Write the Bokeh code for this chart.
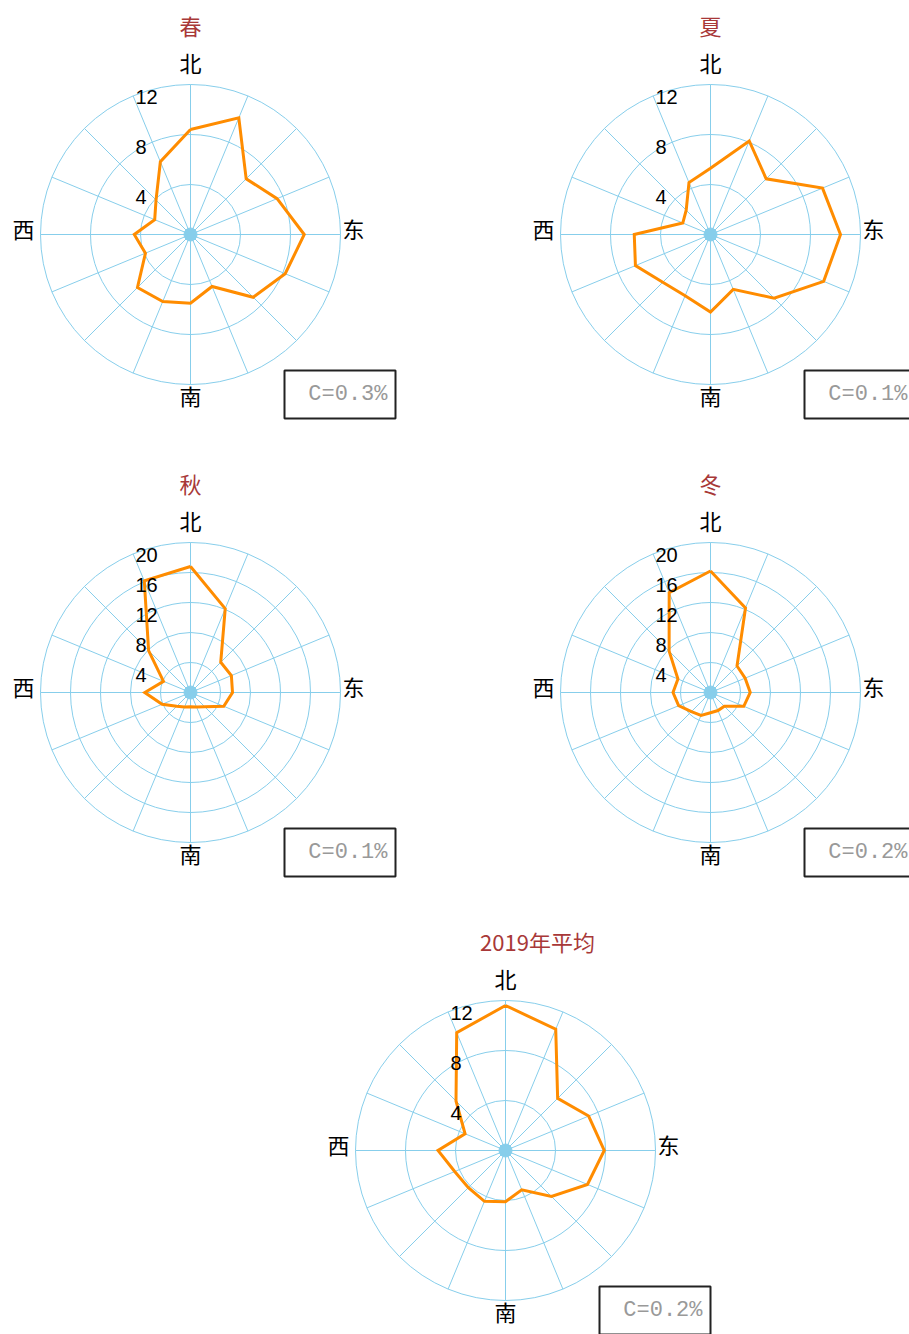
import numpy as np
from bokeh.plotting import figure
from bokeh.layouts import column, row
from bokeh.models import Range1d, Spacer
from bokeh.core.properties import value
from bokeh.embed import file_html
from bokeh.resources import INLINE

# 16 compass sectors, clockwise from north
sectors = ["N", "NNE", "NE", "ENE", "E", "ESE", "SE", "SSE",
           "S", "SSW", "SW", "WSW", "W", "WNW", "NW", "NNW"]

# wind direction frequency (%) per sector
spring = [8.4, 10.1, 6.3, 7.5, 9.1, 8.2, 7.1, 4.5, 5.5, 5.8, 6.0, 3.9, 4.5, 3.1, 3.9, 6.3]
summer = [5.3, 8.1, 6.3, 9.7, 10.4, 9.8, 7.2, 4.75, 6.2, 5.3, 5.4, 6.5, 6.1, 2.4, 2.75, 4.5]
autumn = [16.8, 12.1, 5.7, 5.9, 5.6, 4.8, 2.7, 2.1, 1.9, 2.1, 2.6, 4.1, 6.1, 3.9, 7.9, 16.1]
winter = [16.2, 12.2, 5.0, 5.0, 5.3, 4.8, 2.6, 2.6, 2.7, 3.3, 3.6, 4.6, 5.0, 4.7, 7.8, 14.4]
annual = [11.6, 10.5, 5.9, 7.2, 7.9, 7.1, 5.2, 3.4, 4.1, 4.4, 4.2, 4.4, 5.4, 3.5, 5.6, 10.2]

# ring ticks
ticks_small = [4, 8, 12]
ticks_large = [4, 8, 12, 16, 20]

# calm frequency
calm_spring = "C=0.3%"
calm_summer = "C=0.1%"
calm_autumn = "C=0.1%"
calm_winter = "C=0.2%"
calm_annual = "C=0.2%"

titles = ["春", "夏", "秋", "冬", "2019年平均"]
compass = ["北", "东", "南", "西"]

GRID = "#87CEEB"
ROSE = "#FF8C00"
TITLE_COLOR = "#A83838"
CJK = value("Noto Sans CJK SC")
NUM = value("Liberation Sans")
MONO = value("Liberation Mono")


def rose_panel(title, freq, ticks, calm, width, height, title_dx=0):
    rmax = ticks[-1]
    s = 150.0 / rmax          # pixels per percent
    cx, cy = 190, 234         # rose centre inside the panel
    p = figure(width=width, height=height,
               x_range=Range1d(-cx / s, (width - cx) / s),
               y_range=Range1d(-(height - cy) / s, cy / s),
               output_backend="svg", toolbar_location=None, min_border=0,
               x_axis_type=None, y_axis_type=None, outline_line_color=None,
               background_fill_color="white", border_fill_color="white")
    p.grid.visible = False

    ang = np.deg2rad(np.arange(16) * 22.5)

    # rings and spokes
    p.circle(x=[0] * len(ticks), y=[0] * len(ticks), radius=ticks,
             fill_color=None, line_color=GRID, line_width=1)
    p.segment(x0=np.zeros(16), y0=np.zeros(16),
              x1=rmax * np.sin(ang), y1=rmax * np.cos(ang),
              line_color=GRID, line_width=1)
    p.circle(x=[0], y=[0], radius=6.5 / s, fill_color=GRID, line_color=GRID)

    # frequency polygon
    r = np.array(freq + freq[:1], dtype=float)
    a = np.append(ang, ang[0])
    p.line(r * np.sin(a), r * np.cos(a), line_color=ROSE, line_width=3,
           line_join="miter")

    # ring values
    p.text(x=[-55 / s] * len(ticks), y=[t - 12 / s for t in ticks],
           text=[str(t) for t in ticks], text_font=NUM,
           text_font_size="20px", text_align="left",
           text_baseline="middle", text_color="black")

    # compass labels
    p.text(x=[0, 163 / s, 0, -167 / s], y=[173 / s, 7 / s, -160 / s, 7 / s],
           text=compass, text_font=CJK, text_font_size="22px",
           text_align="center", text_baseline="middle", text_color="black")

    # title
    p.text(x=[title_dx / s], y=[210 / s], text=[title], text_font=CJK,
           text_font_size="22px", text_align="center",
           text_baseline="middle", text_color=TITLE_COLOR)

    # calm box
    p.quad(left=94 / s, right=205 / s, top=-136 / s, bottom=-184 / s,
           fill_color="white", line_color="#222222", line_width=2)
    p.text(x=[197 / s], y=[-160 / s], text=[calm], text_font=MONO,
           text_font_size="22px", text_align="right",
           text_baseline="middle", text_color="#999999")
    return p


p_spring = rose_panel(titles[0], spring, ticks_small, calm_spring, 520, 458)
p_summer = rose_panel(titles[1], summer, ticks_small, calm_summer, 389, 458)
p_autumn = rose_panel(titles[2], autumn, ticks_large, calm_autumn, 520, 458)
p_winter = rose_panel(titles[3], winter, ticks_large, calm_winter, 389, 458)
p_annual = rose_panel(titles[4], annual, ticks_small, calm_annual, 594, 418,
                      title_dx=32)

layout = column(
    row(p_spring, p_summer),
    row(p_autumn, p_winter),
    row(Spacer(width=315, height=418), p_annual),
)

open("out.html", "w").write(file_html(layout, INLINE))
